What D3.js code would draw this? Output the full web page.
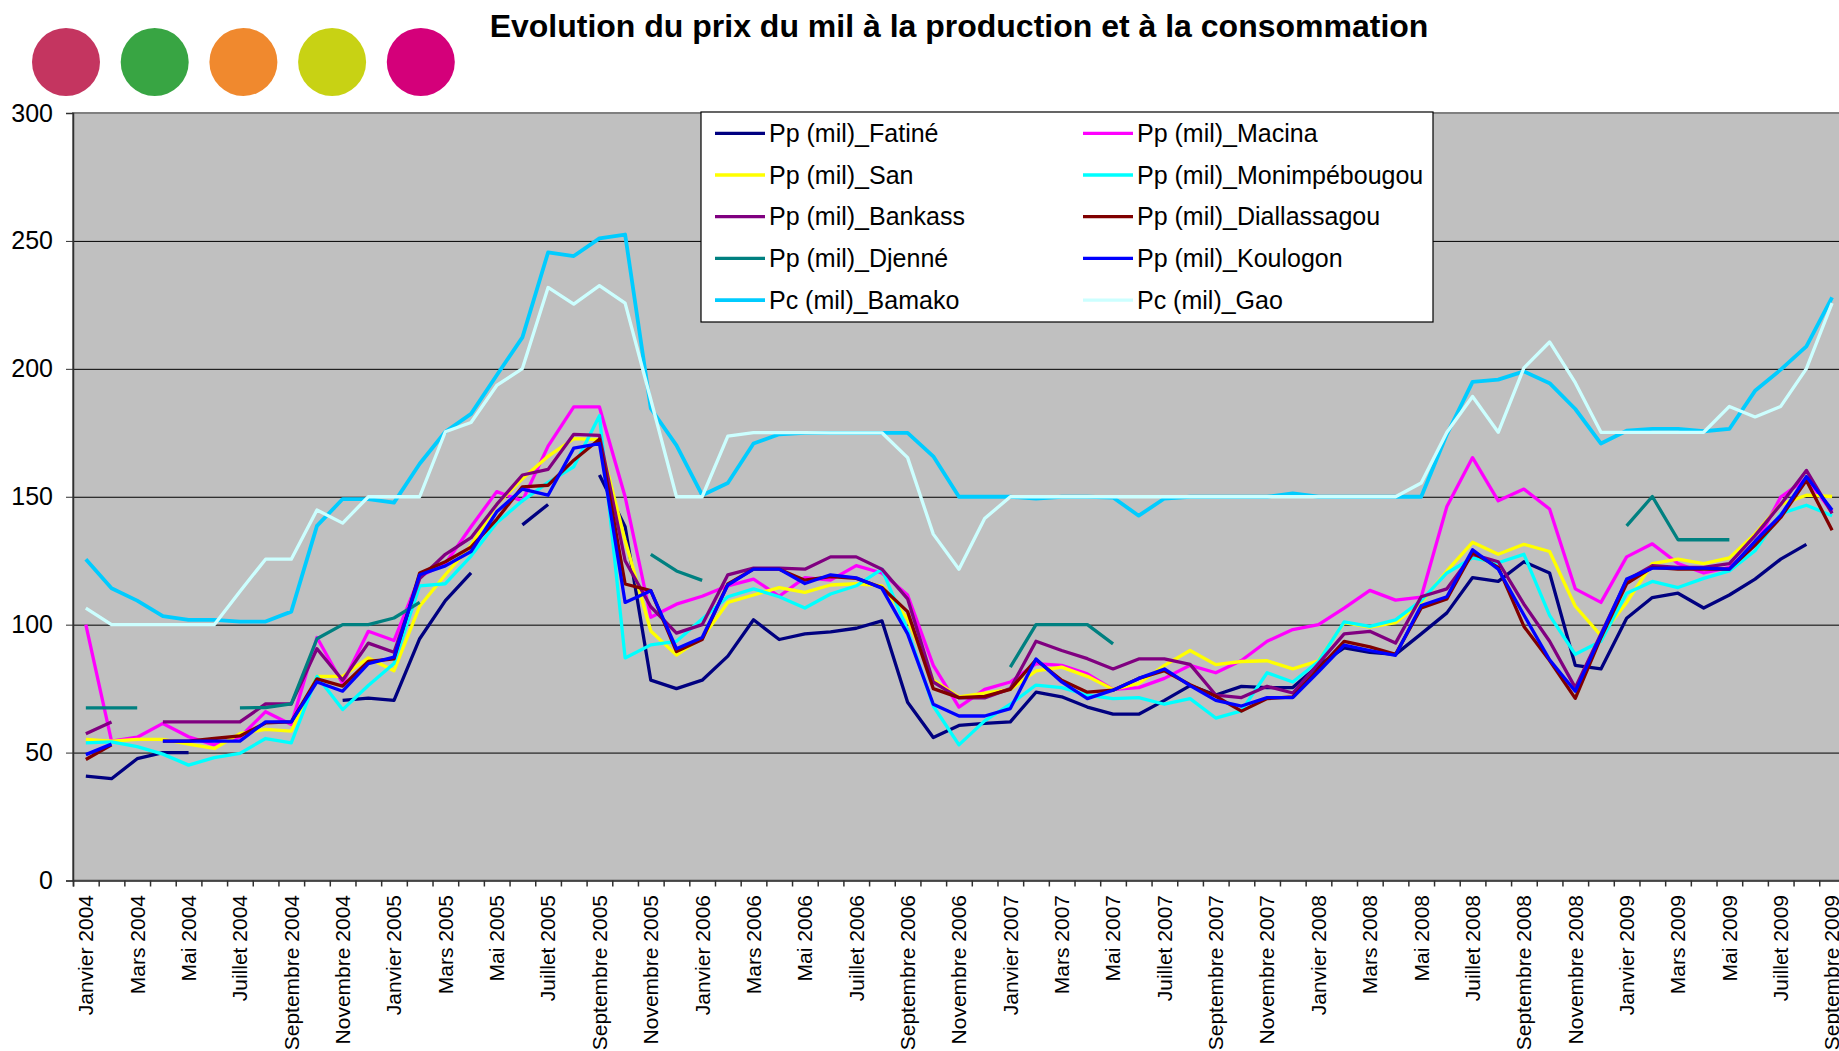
<!DOCTYPE html>
<html>
<head>
<meta charset="utf-8">
<script src="https://cdn.jsdelivr.net/npm/d3@7"></script>
<style>
  body { margin: 0; background: #fff; overflow: hidden; }
  text { font-family: "Liberation Sans", Arial, sans-serif; }
</style>
</head>
<body>
<div id="chart"></div>
<script>
// ---- data ----
let mois = ["Janvier", "Février", "Mars", "Avril", "Mai", "Juin", "Juillet", "Août",
    "Septembre", "Octobre", "Novembre", "Décembre"];
let annees = [2004, 2005, 2006, 2007, 2008, 2009];
let nbMois = 69; // janvier 2004 -> septembre 2009

let titre = "Evolution du prix du mil à la production et à la consommation";
let yTicks = [0, 50, 100, 150, 200, 250, 300];
let pastilles = ["#c43560", "#38a543", "#f0892e", "#c8d214", "#d4007a"];

let fatine = [40.8, 39.8, 47.6, 50, 50, null, null, null, null, null, 70.4, 71.3, 70.4, 94.5, 109.4, 120.2, null, 139, 147, null,
    158.5, 138.3, 78.3, 75, 78.3, 87.7, 101.9, 94.2, 96.4, 97.2, 98.6, 101.5, 69.7, 55.9, 60.6, 61.4, 62, 73.6, 71.8, 67.8,
    65, 65, 70.4, 76.2, 72.5, 75.9, 75.4, 75.4, 84.1, 90.9, 89.2, 88.4, 96.4, 104.6, 118.4, 116.9, 124.6, 120.2, 84.1, 82.7,
    102.5, 110.6, 112.3, 106.5, 111.6, 117.8, 125.6, 131.4, null];
let macina = [100, 54.5, 56, 61.4, 56.2, 53, 56, 66, 61, 95, 77, 97.4, 93.8, 118.8, 123.9, 138.3, 152, 148.4, 169.8, 185.1,
    185.1, 150, 102.9, 108, 111.1, 115.2, 117.8, 111.1, 118.4, 117.4, 123.1, 120.2, 111.6, 84.1, 67.8, 74.7, 77.6, 84.8, 84.1, 80.8,
    74.7, 75.4, 79, 84.1, 81.2, 86, 93.5, 98.1, 100, 106.5, 113.4, 109.6, 110.8, 146.2, 165.3, 148.4, 153, 145.2, 114, 108.7,
    126.5, 131.6, 123.9, 120.2, 122.4, 131, 149.9, 157.1, 144.1];
let san = [55.2, 54.5, 55.2, 55.2, 53.3, 51.6, 57.4, 59.1, 58.4, 79.8, 79.8, 87, 82, 107.2, 119.5, 131, 147, 157, 165.8, 172.7,
    172.3, 133, 97.5, 88.1, 94.9, 108.7, 111.6, 114.5, 112.6, 115.5, 116, 115.2, 102.2, 78.3, 71.8, 73.2, 74.7, 81.9, 83.4, 79.8,
    74.7, 77, 84.1, 89.9, 84.4, 85.6, 85.9, 82.7, 85.9, 100.8, 99, 100.8, 108.7, 121, 132.2, 127.5, 131.4, 128.6, 107.2, 95.7,
    108.7, 123.9, 125.6, 123.9, 126.1, 135.5, 147, 150.6, 150.1];
let monimpebougou = [53.8, 54.2, 52.3, 49.4, 45.1, 48, 49.7, 55.5, 53.8, 79.8, 66.8, 76.2, 84.8, 115.2, 116, 126.8, 139.8, 148.4, 155.6, 161.7,
    181.7, 87, 92.1, 93.5, 102.2, 110.9, 114, 110.9, 106.5, 112, 115.2, 121.7, 97.8, 68.2, 53, 62.4, 68.9, 76.4, 75.4, 72.5,
    71.1, 71.5, 68.9, 71.1, 63.5, 66.3, 81.2, 77.6, 85.6, 101.1, 99.3, 101.9, 109.4, 120.2, 126.1, 124.2, 127.5, 103.6, 88.4, 93.5,
    112.3, 116.9, 114.5, 118.1, 121, 128.9, 143.4, 146.7, 142.6];
let bankass = [57.4, 62, null, 62, 62, 62, 62, 69, 69, 90.6, 78.3, 92.8, 89.2, 118, 127.5, 134, 147, 158.5, 160.7, 174.4,
    174, 125, 107, 96.7, 100, 119.5, 122.1, 122.1, 121.7, 126.5, 126.5, 121.7, 110.1, 77.6, 71.4, 71.4, 75, 93.5, 89.9, 86.7,
    82.7, 86.6, 86.6, 84.5, 72.5, 71.5, 75.9, 73.3, 84.8, 96.4, 97.4, 92.8, 110.9, 114, 127.5, 124.6, 108, 93.5, 75.4, 96.4,
    117.4, 123.1, 122.4, 122.4, 123.9, 134.8, 147, 160.3, 143.5];
let diallassagou = [47.3, 53, null, 54.5, 54.5, 55.5, 56.5, 61.6, 62, 78.8, 76, 85.6, 86.6, 120.2, 124.6, 130.3, 141.2, 153.9, 154.5, 164.3,
    172.5, 115.9, 113.3, 89.5, 94.2, 115.9, 121.7, 121.7, 117.4, 118.8, 118.1, 114.5, 105.1, 75, 71.5, 72, 74.7, 86.3, 78.3, 73.6,
    74.4, 79, 82, 76.5, 72, 66.2, 71.1, 71.8, 82.7, 93.5, 91.3, 88.4, 106.5, 110.1, 128.2, 122.4, 99.3, 86, 71.2, 95,
    116, 122.4, 121.7, 121.7, 121.7, 131.1, 141.9, 156.4, 136.9];
let djenne = [67.5, 67.5, 67.5, null, null, null, 67.5, 67.6, 69, 94.5, 100, 100, 102.6, 108.7, null, null, null, null, null, null,
    null, null, 127.5, 121, 117.3, null, null, null, null, null, null, null, null, null, null, null, 83.4, 100, 100, 100,
    92.5, null, null, null, null, null, null, null, null, null, null, null, null, null, null, null, null, null, null, null,
    138.6, 150.1, 133.2, 133.2, 133.2, null, null, null, null];
let koulogon = [49.2, 53.3, null, 54.5, 54.5, 54.5, 54.5, 62, 62, 77.6, 74, 84.8, 87.3, 119.5, 123, 128.6, 144.1, 153, 150.6, 169,
    170.8, 108.7, 113.3, 90.6, 95, 115.5, 121.7, 121.7, 116.1, 119.5, 118.3, 114.2, 96.4, 68.9, 64.3, 64.3, 67.2, 86.6, 77.6, 71.1,
    74.4, 79, 82.7, 76.2, 70.4, 68.2, 71.5, 71.5, 81.6, 92, 89.9, 88, 107.5, 110.9, 129.3, 121.7, 103.8, 86.3, 74, 95.7,
    117.8, 122.1, 122.1, 122.1, 121.7, 132.6, 142.7, 157.9, 144.8];
let bamako = [125.6, 114.2, 109.4, 103.3, 101.9, 101.9, 101.2, 101.2, 105.1, 138.6, 149.1, 149.1, 147.7, 162.9, 175.4, 182.4, 197.5, 212.3, 245.5, 244.1,
    251, 252.5, 184.5, 170.1, 150.6, 155.4, 170.8, 174.4, 175, 175, 175, 175, 175, 165.8, 150, 150, 150, 149.3, 150, 150,
    149.7, 142.6, 149.3, 150, 150, 150, 150, 151.3, 150, 150, 150, 150, 150, 174.4, 194.9, 195.8, 199, 194.4, 184.3, 170.8,
    175.8, 176.5, 176.5, 175.6, 176.5, 191.4, 199.7, 208.8, 227.9];
let gao = [106.5, 100, 100, 100, 100, 100, 113, 125.6, 125.6, 144.8, 139.7, 150, 150, 150, 175.4, 179, 193.5, 200.1, 231.8, 225.3,
    232.5, 225.7, 188, 150, 150, 173.7, 175.1, 175.1, 175.1, 175, 175, 175, 165.3, 135.4, 121.7, 141.5, 150, 150, 150, 150,
    150, 150, 150, 150, 150, 150, 150, 150, 150, 150, 150, 150, 155.4, 175.2, 189.2, 175.2, 200.4, 210.5, 194.6, 175.2,
    175.2, 175.2, 175.2, 175.2, 185.3, 181.2, 185.3, 200.1, 225.7];

let series = [
    {nom: "Pp (mil)_Fatiné", couleur: "#000080", valeurs: fatine},
    {nom: "Pp (mil)_Macina", couleur: "#ff00ff", valeurs: macina},
    {nom: "Pp (mil)_San", couleur: "#ffff00", valeurs: san},
    {nom: "Pp (mil)_Monimpébougou", couleur: "#00ffff", valeurs: monimpebougou},
    {nom: "Pp (mil)_Bankass", couleur: "#800080", valeurs: bankass},
    {nom: "Pp (mil)_Diallassagou", couleur: "#800000", valeurs: diallassagou},
    {nom: "Pp (mil)_Djenné", couleur: "#008080", valeurs: djenne},
    {nom: "Pp (mil)_Koulogon", couleur: "#0000ff", valeurs: koulogon},
    {nom: "Pc (mil)_Bamako", couleur: "#00ccff", valeurs: bamako},
    {nom: "Pc (mil)_Gao", couleur: "#ccffff", valeurs: gao}
];

let categories = d3.range(nbMois).map(function(i) {
    return mois[i % 12] + " " + annees[Math.floor(i / 12)];
});

// ---- layout ----
let W = 1839, H = 1051;
let margin = {top: 113, left: 73},
    band = 25.68,
    plotW = band * nbMois,
    plotH = 767.5;

let svg = d3.select("#chart").append("svg")
    .attr("width", W)
    .attr("height", H);

let canvas = svg.append("g")
    .attr("transform", "translate(" + margin.left + "," + margin.top + ")");

let x = d3.scaleBand()
    .domain(categories)
    .range([0, plotW]);

let xEdge = d3.scaleLinear()
    .domain([0, nbMois])
    .range([0, plotW]);

let y = d3.scaleLinear()
    .domain([0, 300])
    .range([plotH, 0]);

// title + coloured dots
svg.append("text")
    .attr("x", 959)
    .attr("y", 37)
    .attr("text-anchor", "middle")
    .style("font-size", "32px")
    .style("font-weight", "bold")
    .text(titre);

svg.selectAll(".pastille")
    .data(pastilles)
    .enter().append("circle")
      .attr("class", "pastille")
      .attr("cx", function(d, i) { return 66 + i * 88.7; })
      .attr("cy", 62)
      .attr("r", 34)
      .style("fill", function(d) { return d; });

// plot area
canvas.append("rect")
    .attr("width", plotW)
    .attr("height", plotH)
    .style("fill", "#c0c0c0")
    .style("stroke", "#808080")
    .style("stroke-width", 2);

canvas.append("g")
    .attr("class", "grid")
    .call(d3.axisLeft(y).tickValues(yTicks.slice(1, -1)).tickSize(-plotW).tickFormat(""))
    .call(function(g) {
        g.select(".domain").remove();
        g.selectAll("line").style("stroke", "#000").style("stroke-width", 1);
    });

let clip = canvas.append("clipPath")
  .attr("id", "clip")
  .append("rect")
  .attr("x", -4)
  .attr("y", -4)
  .attr("width", plotW + 8)
  .attr("height", plotH + 8);

let valueline = d3.line()
    .defined(function(d) { return d != null; })
    .curve(d3.curveLinear)
    .x(function(d, i) { return x(categories[i]) + x.bandwidth() / 2; })
    .y(function(d) { return y(d); });

canvas.append("g")
    .attr("clip-path", "url(#clip)")
    .selectAll(".serie")
    .data(series)
    .enter().append("path")
      .attr("class", "serie")
      .attr("d", function(d) { return valueline(d.valeurs); })
      .style("fill", "none")
      .style("stroke", function(d) { return d.couleur; })
      .style("stroke-width", function(d) { return d.nom === "Pc (mil)_Bamako" ? 3.8 : 3.3; })
      .style("stroke-linejoin", "round");

// axes
let gYAxis = canvas.append("g")
    .attr("class", "y axis")
    .call(d3.axisLeft(y).tickValues(yTicks).tickSize(7).tickPadding(13));

gYAxis.selectAll("text")
    .style("font-size", "25px")
    .style("fill", "#000");

let gXTicks = canvas.append("g")
    .attr("transform", "translate(0," + plotH + ")")
    .call(d3.axisBottom(xEdge).tickValues(d3.range(nbMois + 1)).tickSize(6).tickFormat(""));

let gXAxis = canvas.append("g")
    .attr("class", "x axis")
    .attr("transform", "translate(0," + plotH + ")")
    .call(d3.axisBottom(x)
        .tickValues(categories.filter(function(d, i) { return i % 2 === 0; }))
        .tickSize(0));

gXAxis.select(".domain").remove();
gXAxis.selectAll("text")
    .attr("transform", "rotate(-90)")
    .attr("x", -14.5)
    .attr("y", 0)
    .attr("dy", "0.35em")
    .style("text-anchor", "end")
    .style("font-size", "21px")
    .style("fill", "#000");

canvas.selectAll(".axis .domain, .axis line")
    .style("stroke", "#303030");
gXTicks.selectAll(".domain, line").style("stroke", "#303030").style("stroke-width", 1.5);
gYAxis.select(".domain").style("stroke-width", 1.5);

// legend
let legend = svg.append("g")
    .attr("class", "legend")
    .attr("transform", "translate(701,112)");

legend.append("rect")
    .attr("width", 732)
    .attr("height", 210)
    .style("fill", "#fff")
    .style("stroke", "#000")
    .style("stroke-width", 1.2);

let item = legend.selectAll(".item")
    .data(series)
    .enter().append("g")
      .attr("class", "item")
      .attr("transform", function(d, i) {
          return "translate(" + (14 + (i % 2) * 368) + "," + (21.3 + Math.floor(i / 2) * 41.7) + ")";
      });

item.append("line")
    .attr("x1", 0)
    .attr("x2", 50)
    .style("stroke", function(d) { return d.couleur; })
    .style("stroke-width", function(d) { return d.nom === "Pc (mil)_Bamako" ? 3.8 : 3.3; });

item.append("text")
    .attr("x", 54)
    .attr("dy", "0.35em")
    .style("font-size", "25px")
    .text(function(d) { return d.nom; });
</script>
</body>
</html>
